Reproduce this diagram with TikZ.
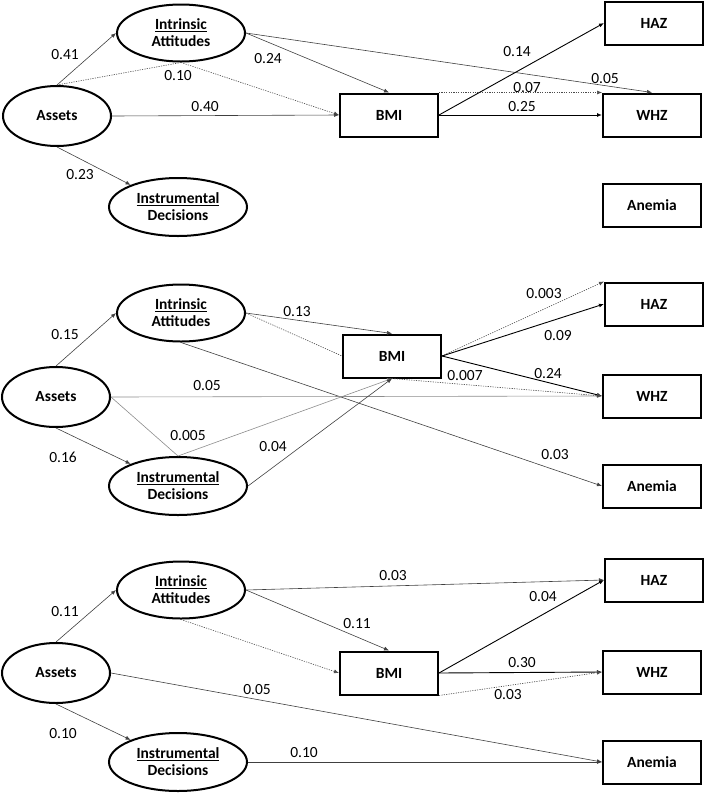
\documentclass[tikz,border=0pt]{standalone}
\usepackage{fontspec}
\setmainfont{Carlito}
\usetikzlibrary{shapes.geometric,arrows.meta}
\begin{document}
\begin{tikzpicture}[x=1pt,y=-1pt,
  lat/.style={ellipse,draw,line width=2pt,inner sep=0pt,align=center,
    minimum width=128pt,minimum height=57pt,font=\fontsize{15.5}{17}\selectfont\bfseries},
  latA/.style={lat,minimum width=108pt,minimum height=60pt},
  latD/.style={lat,minimum width=138pt,minimum height=58pt},
  obs/.style={rectangle,draw,line width=2pt,inner sep=0pt,minimum width=98pt,
    minimum height=43pt,font=\fontsize{15.5}{17}\selectfont\bfseries},
  lbl/.style={inner sep=0pt,font=\fontsize{15.5}{17}\selectfont},
  tip/.style={-{Latex[length=5pt,width=4pt]}},
  arr/.style={draw=black!75,line width=0.6pt,tip},
  arrk/.style={draw=black,line width=0.9pt,tip},
  arrg/.style={draw=black!45,line width=0.6pt,tip},
  lin/.style={draw=black!75,line width=0.6pt},
  ling/.style={draw=black!45,line width=0.6pt},
  dot/.style={draw=black!70,line width=0.6pt,dash pattern=on 1.2pt off 1.2pt},
]
\useasboundingbox (0,0) rectangle (705,793);

% ---------- top panel ----------
\node[latA] (A1) at (57,116) {Assets};
\node[lat]  (I1) at (181,33) {\underline{Intrinsic}\\Attitudes};
\node[latD] (D1) at (178,207) {\underline{Instrumental}\\Decisions};
\node[obs]  (B1) at (389,115) {BMI};
\node[obs]  (H1) at (654,23) {HAZ};
\node[obs]  (W1) at (652,115) {WHZ};
\node[obs]  (N1) at (652,205) {Anemia};

\draw[arr] (A1.north) -- (I1.west);
\draw[dot] (A1.north) -- (I1.south);
\draw[dot,tip] (I1.south) -- (B1.west);
\draw[arr] (I1.east) -- (B1.north);
\draw[arr] (I1.east) -- (W1.north);
\draw[arr] (A1.east) -- (B1.west);
\draw[arr] (A1.south) -- (D1.155);
\draw[arrk] (B1.east) -- (H1.west);
\draw[dot,tip] (B1.north east) -- (W1.north west);
\draw[arrk] (B1.east) -- (W1.west);

\node[lbl] (t1) at (65,55) {0.41};
\node[lbl] (t2) at (178,76) {0.10};
\node[lbl] (t3) at (268,59) {0.24};
\node[lbl] (t4) at (205,107) {0.40};
\node[lbl] (t5) at (80,175) {0.23};
\node[lbl] (t6) at (517,52) {0.14};
\node[lbl] (t7) at (605,79) {0.05};
\node[lbl] (t8) at (527,88) {0.07};
\node[lbl] (t9) at (522,107) {0.25};

% ---------- middle panel ----------
\node[latA] (A2) at (56,397) {Assets};
\node[lat]  (I2) at (181,313) {\underline{Intrinsic}\\Attitudes};
\node[latD] (D2) at (178,486) {\underline{Instrumental}\\Decisions};
\node[obs]  (B2) at (392,356) {BMI};
\node[obs]  (H2) at (654,304) {HAZ};
\node[obs]  (W2) at (652,396) {WHZ};
\node[obs]  (N2) at (652,486) {Anemia};

\draw[arr] (A2.north) -- (I2.west);
\draw[arr] (A2.south) -- (D2.155);
\draw[arr] (I2.east) -- (B2.north);
\draw[dot] (I2.east) -- (B2.west);
\draw[arr] (I2.south) -- (N2.west);
\draw[arrg] (A2.east) -- (W2.west);
\draw[ling] (A2.east) -- (D2.north);
\draw[arrg] (D2.north) -- (B2.south);
\draw[arr] (D2.east) -- (B2.south);
\draw[dot,tip] (B2.east) -- (H2.north west);
\draw[arrk] (B2.east) -- (H2.west);
\draw[arrk] (B2.east) -- (W2.west);
\draw[dot,tip] (B2.south) -- (W2.west);

\node[lbl] (m1) at (65,335) {0.15};
\node[lbl] (m2) at (297,312) {0.13};
\node[lbl] (m3) at (207,386) {0.05};
\node[lbl] (m4) at (188,436) {0.005};
\node[lbl] (m5) at (273,447) {0.04};
\node[lbl] (m6) at (63,457) {0.16};
\node[lbl] (m7) at (544,294) {0.003};
\node[lbl] (m8) at (558,336) {0.09};
\node[lbl] (m9) at (465,376) {0.007};
\node[lbl] (m10) at (548,374) {0.24};
\node[lbl] (m11) at (555,455) {0.03};

% ---------- bottom panel ----------
\node[latA] (A3) at (56,673) {Assets};
\node[lat]  (I3) at (181,590) {\underline{Intrinsic}\\Attitudes};
\node[latD] (D3) at (178,762) {\underline{Instrumental}\\Decisions};
\node[obs]  (B3) at (389,673) {BMI};
\node[obs]  (H3) at (654,580) {HAZ};
\node[obs]  (W3) at (652,672) {WHZ};
\node[obs]  (N3) at (652,762) {Anemia};

\draw[arr] (A3.north) -- (I3.west);
\draw[arr] (A3.south) -- (D3.155);
\draw[arr] (I3.east) -- (H3.west);
\draw[arr] (I3.east) -- (B3.north);
\draw[dot,tip] (I3.south) -- (B3.west);
\draw[arr] (A3.east) -- (N3.west);
\draw[arr] (D3.east) -- (N3.west);
\draw[arrk] (B3.east) -- (H3.west);
\draw[arrk] (B3.east) -- (W3.west);
\draw[dot,tip] (B3.south east) -- (W3.west);

\node[lbl] (b1) at (65,612) {0.11};
\node[lbl] (b2) at (257,690) {0.05};
\node[lbl] (b3) at (63,734) {0.10};
\node[lbl] (b4) at (304,753) {0.10};
\node[lbl] (b5) at (393,576) {0.03};
\node[lbl] (b6) at (543,597) {0.04};
\node[lbl] (b7) at (357,624) {0.11};
\node[lbl] (b8) at (522,663) {0.30};
\node[lbl] (b9) at (508,695) {0.03};
\end{tikzpicture}
\end{document}
